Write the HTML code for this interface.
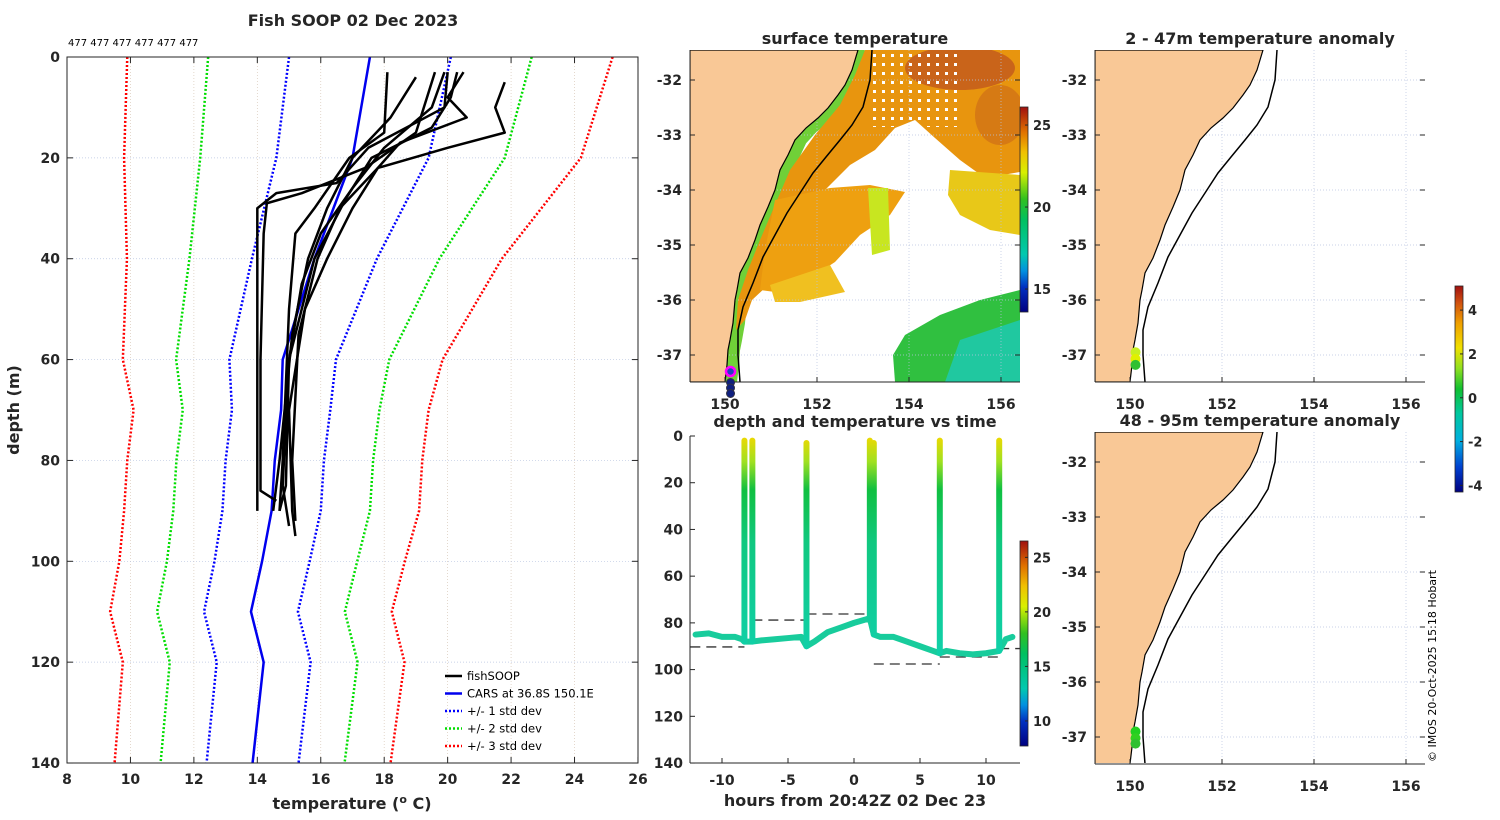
<!DOCTYPE html>
<html><head><meta charset="utf-8"><style>
html,body{margin:0;padding:0;background:#fff;}
svg{display:block;font-family:"DejaVu Sans","Liberation Sans",sans-serif;}
</style></head><body>
<svg id="chart" width="1500" height="820" viewBox="0 0 1500 820" xmlns="http://www.w3.org/2000/svg">
<defs>
<linearGradient id="jet" x1="0" y1="1" x2="0" y2="0">
<stop offset="0" stop-color="#000080"/><stop offset="0.12" stop-color="#0030c0"/><stop offset="0.2" stop-color="#0090e0"/><stop offset="0.28" stop-color="#00c8b0"/><stop offset="0.45" stop-color="#00c060"/><stop offset="0.55" stop-color="#30c020"/><stop offset="0.68" stop-color="#d8f000"/><stop offset="0.78" stop-color="#f0c000"/><stop offset="0.88" stop-color="#e07000"/><stop offset="1" stop-color="#a01010"/>
</linearGradient>
<linearGradient id="anom" x1="0" y1="1" x2="0" y2="0">
<stop offset="0" stop-color="#000080"/><stop offset="0.12" stop-color="#0040d0"/><stop offset="0.25" stop-color="#00b0e0"/><stop offset="0.38" stop-color="#00c8a0"/><stop offset="0.5" stop-color="#10c030"/><stop offset="0.6" stop-color="#90e020"/><stop offset="0.7" stop-color="#f0e000"/><stop offset="0.82" stop-color="#f0a000"/><stop offset="0.92" stop-color="#d05010"/><stop offset="1" stop-color="#a01010"/>
</linearGradient>
<linearGradient id="castgrad" gradientUnits="userSpaceOnUse" x1="0" y1="436" x2="0" y2="650">
<stop offset="0" stop-color="#f0d800"/><stop offset="0.12" stop-color="#a0e020"/><stop offset="0.25" stop-color="#10c040"/><stop offset="0.5" stop-color="#10c880"/><stop offset="1" stop-color="#10d0a8"/>
</linearGradient>
<pattern id="holes" width="9" height="9" patternUnits="userSpaceOnUse"><rect x="0" y="0" width="3" height="3" fill="#fff"/></pattern>
<clipPath id="clipA"><rect x="690" y="50" width="330" height="332"/></clipPath>
<clipPath id="clipB"><rect x="1095" y="50" width="330" height="332"/></clipPath>
<clipPath id="clipC"><rect x="1095" y="432" width="330" height="331"/></clipPath>
</defs>
</svg>
<script>
const NS='http://www.w3.org/2000/svg';
const svg=document.getElementById('chart');
// ---------- data ----------
const climDepths=[0,20,40,60,70,80,90,100,110,120,140];
const climMean=[17.55,17.0,15.8,14.8,14.75,14.55,14.45,14.15,13.8,14.2,13.85];
const climStd=[2.55,2.4,1.97,1.68,1.55,1.55,1.55,1.5,1.48,1.48,1.45];
const prof1=[[3,20.0],[10,19.9],[18,17.5],[25,16.5],[27,14.6],[30,14.0],[60,14.0],[85,14.0],[90,14.0]];
const prof2=[[3,19.6],[15,19.0],[22,17.4],[27,15.4],[29,14.3],[35,14.2],[60,14.1],[86,14.1],[88,14.6]];
const prof3=[[3,18.1],[15,18.0],[20,16.9],[30,15.8],[35,15.2],[50,15.0],[80,14.8],[90,14.7]];
const prof4=[[5,21.8],[10,21.5],[15,21.8],[18,20.0],[22,17.8],[30,17.0],[40,16.2],[50,15.5],[70,15.0],[90,15.1],[95,15.2]];
const prof5=[[3,20.5],[8,20.0],[12,20.6],[17,18.5],[22,17.8],[30,16.6],[40,15.9],[55,15.3],[80,15.1],[92,15.2]];
const prof6=[[3,19.9],[10,19.5],[18,18.0],[26,17.0],[35,16.0],[45,15.4],[60,15.0],[85,14.8],[93,15.0]];
const prof7=[[4,19.0],[12,18.2],[20,17.0],[30,16.2],[40,15.6],[55,15.1],[80,14.7],[90,14.5]];
const prof8=[[3,20.3],[8,20.1],[14,19.5],[20,17.6],[28,16.8],[40,15.8],[60,15.0],[85,14.9],[90,14.7]];
const tempTicks=[8,10,12,14,16,18,20,22,24,26];
const depthTicks=[0,20,40,60,80,100,120,140];
const traceT=[-12,-11,-10,-9,-8.5,-8.3,-7.7,-7,-6,-5,-4,-3.6,-3,-2,-1,0,1.2,1.5,2,3,4,5,6,6.5,7,8,9,10,11,11.5,12];
const traceD=[85,84.5,86,86,87,88,88,87.5,87,86.5,86,90,88,84,82,80,78,85,86,86,88,90,92,93,92,93,93.5,93,92,87,86];
const castT=[-8.3,-7.7,-3.6,1.2,1.5,6.5,11.0];
const castTop=[2,2,3,2,3,2,2];
const castBot=[88,88,90,78,85,93,92];
const dashT0=[-12.4,-7.7,-3.6,1.5,6.5,11.0];
const dashT1=[-8.3,-3.6,1.2,6.5,11.0,12.6];
const dashD=[90.3,78.8,76.2,97.6,94.6,91];
const hourTicks=[-10,-5,0,5,10];
const lonTicks=[150,152,154,156];
const latTicks=[-32,-33,-34,-35,-36,-37];
const sstDotsLat=[-37.3,-37.5,-37.6,-37.7];
const anomTopLat=[-36.95,-37.07,-37.18];
const anomTopColor=['#c8f020','#e0f000','#30c030'];
const anomBotLat=[-36.9,-37.02,-37.12];
const anomBotColor=['#20d020','#30d020','#30c030'];

function el(tag,a,p){const e=document.createElementNS(NS,tag);for(const k in a)e.setAttribute(k,a[k]);(p||svg).appendChild(e);return e;}
function tx(x,y,s,a,p){const e=el('text',Object.assign({x:x,y:y,'font-size':14,'font-weight':'bold',fill:'#262626'},a||{}),p);e.textContent=s;return e;}

// ---------- profile panel ----------
const X=t=>67+(t-8)*31.72, Y=d=>57+d*5.043;
const gP=el('g',{});


tempTicks.forEach(t=>{const l=el('line',{x1:X(t),x2:X(t),y1:57,y2:763,stroke:'#d8c8b8','stroke-width':0.7,'stroke-dasharray':'1,2'},gP);
 const tk=tx(X(t),784,String(t),{'text-anchor':'middle'},gP);
 el('line',{x1:X(t),x2:X(t),y1:763,y2:757,stroke:'#262626'},gP);el('line',{x1:X(t),x2:X(t),y1:57,y2:63,stroke:'#262626'},gP);});
depthTicks.forEach(d=>{const l=el('line',{x1:67,x2:638,y1:Y(d),y2:Y(d),stroke:'#b8c4e0','stroke-width':0.7,'stroke-dasharray':'1,2'},gP);
 const tk=tx(60,Y(d)+5,String(d),{'text-anchor':'end'},gP);
 el('line',{x1:67,x2:73,y1:Y(d),y2:Y(d),stroke:'#262626'},gP);el('line',{x1:638,x2:632,y1:Y(d),y2:Y(d),stroke:'#262626'},gP);});
const stdCols={1:'#0000ff',2:'#00dd00',3:'#ff0000'};
[3,2,1].forEach(k=>[-1,1].forEach(s=>{
 const pts=climDepths.map((d,i)=>X(climMean[i]+s*k*climStd[i])+','+Y(d)).join(' ');
 const pl=el('polyline',{points:pts,fill:'none',stroke:stdCols[k],'stroke-width':2.5,'stroke-dasharray':'2,2'},gP);
 
 }));
const meanL=el('polyline',{points:climDepths.map((d,i)=>X(climMean[i])+','+Y(d)).join(' '),fill:'none',stroke:'#0000ee','stroke-width':2.5},gP);


[prof1,prof2,prof3,prof4,prof5,prof6,prof7,prof8].forEach(p=>{
 const pl=el('polyline',{points:p.map(q=>X(q[1])+','+Y(q[0])).join(' '),fill:'none',stroke:'#000','stroke-width':2.5,'stroke-linejoin':'round'},gP);
 
 });
el('rect',{x:67,y:57,width:571,height:706,fill:'none',stroke:'#262626','stroke-width':1},gP);
let t1=tx(353,26,'Fish SOOP 02 Dec 2023',{'text-anchor':'middle','font-size':16},gP);
t1=tx(68,46,'477 477 477 477 477 477',{'font-size':10,'font-weight':'normal',fill:'#000'},gP);
t1=el('text',{x:352,y:809,'text-anchor':'middle','font-size':16,'font-weight':'bold',fill:'#262626'},gP);t1.innerHTML='temperature (<tspan dy="-6" font-size="11">o</tspan><tspan dy="6"> C)</tspan>';
t1=tx(0,0,'depth (m)',{'text-anchor':'middle','font-size':16,transform:'translate(19,410) rotate(-90)'},gP);
const legItems=[['fishSOOP','#000',''],['CARS at 36.8S 150.1E','#0000ee',''],['+/- 1 std dev','#0000ff','2,2'],['+/- 2 std dev','#00dd00','2,2'],['+/- 3 std dev','#ff0000','2,2']];
const gL=el('g',{},gP);
legItems.forEach((it,i)=>{const y=676+i*17.5;el('line',{x1:445,x2:462,y1:y,y2:y,stroke:it[1],'stroke-width':2.5,'stroke-dasharray':it[2]||'none'},gL);
 const t=tx(467,y+4,it[0],{'font-size':11.5,'font-weight':'normal',fill:'#000'},gL);});

// ---------- maps ----------
const coast=[[858,50],[852,70],[845,85],[838,95],[828,108],[818,118],[806,128],[795,140],[788,155],[780,170],[775,190],[768,207],[760,225],[755,240],[748,258],[740,273],[737,290],[735,300],[733,323],[730,340],[728,350],[727,365],[725,382]];
const shelf=[[872,50],[870,80],[863,107],[852,125],[840,140],[826,157],[813,173],[800,193],[787,213],[775,235],[763,257],[753,283],[743,307],[738,330],[738,355],[740,382]];
const LX=(lon,x0)=>x0+35+(lon-150)*46, LY=(lat,y0)=>y0+30+(-32-lat)*55;
function mapFrame(x0,y0,name,title,clip,sst){
 const g=el('g',{});
 const inner=el('g',{'clip-path':'url(#'+clip+')'},g);
 const dx=x0-690,dy=y0-50;
 const inn=el('g',{transform:'translate('+dx+','+dy+')'},inner);
 if(sst){
  const P=(pts,f)=>el('polygon',{points:pts.map(p=>p.join(',')).join(' '),fill:f},inn);
  el('polyline',{points:coast.map(p=>(p[0]+6)+','+p[1]).join(' '),fill:'none',stroke:'#70d038','stroke-width':12},inn);
  P([[865,50],[1020,50],[1020,172],[985,178],[960,160],[935,138],[915,120],[895,128],[875,150],[850,165],[830,185],[810,205],[795,225],[780,255],[768,285],[752,300],[745,320],[736,330],[738,300],[748,270],[760,240],[775,205],[790,170],[815,135],[840,105],[855,75]],'#e8950e');
  el('ellipse',{cx:960,cy:68,rx:55,ry:22,fill:'#c9641a'},inn);
  el('ellipse',{cx:1000,cy:115,rx:25,ry:30,fill:'#d67a14'},inn);
  el('rect',{x:872,y:52,width:90,height:75,fill:'url(#holes)'},inn);
  P([[775,200],[830,188],[870,185],[905,192],[890,215],[860,235],[835,262],[800,285],[775,292],[760,290],[765,250]],'#eea010');
  P([[770,285],[830,265],[845,292],[800,302],[775,302]],'#f0c020');
  P([[868,188],[888,188],[890,250],[872,255]],'#c8e620');
  P([[950,170],[1020,175],[1020,235],[990,230],[960,215],[948,195]],'#e8c818');
  P([[905,335],[940,315],[980,300],[1020,290],[1020,382],[895,382],[893,355]],'#30c040');
  P([[960,340],[1020,320],[1020,382],[945,382]],'#20c8a0');
 }
 latTicks.forEach(l=>{el('line',{x1:690,x2:1020,y1:LY(l,50),y2:LY(l,50),stroke:'#b8c4e0','stroke-width':0.7,'stroke-dasharray':'1,2'},inn);});
 lonTicks.forEach(l=>{el('line',{x1:LX(l,690),x2:LX(l,690),y1:50,y2:382,stroke:'#b8c4e0','stroke-width':0.7,'stroke-dasharray':'1,2'},inn);});
 const land=el('polygon',{points:coast.concat([[690,382],[690,50]]).map(p=>p.join(',')).join(' '),fill:'#f9c896',stroke:'#000','stroke-width':1.2},inn);
 
 const sh=el('polyline',{points:shelf.map(p=>p.join(',')).join(' '),fill:'none',stroke:'#000','stroke-width':1.5},inn);
 
 el('line',{x1:x0,x2:x0+330,y1:y0+332,y2:y0+332,stroke:'#262626'},g);
 el('line',{x1:x0,x2:x0,y1:y0,y2:y0+332,stroke:'#262626'},g);
 latTicks.forEach(l=>{const y=LY(l,y0);el('line',{x1:x0,x2:x0+5,y1:y,y2:y,stroke:'#262626'},g);el('line',{x1:x0+330,x2:x0+325,y1:y,y2:y,stroke:'#262626'},g);
  const t=tx(x0-8,y+5,String(l),{'text-anchor':'end'},g);});
 lonTicks.forEach(l=>{const x=LX(l,x0);el('line',{x1:x,x2:x,y1:y0+332,y2:y0+327,stroke:'#262626'},g);
  const t=tx(x,y0+359,String(l),{'text-anchor':'middle'},g);});
 const tt=tx(x0+165,y0-6,title,{'text-anchor':'middle','font-size':16},g);
 return g;}
const gA=mapFrame(690,50,'surface-temperature-map','surface temperature','clipA',true);
sstDotsLat.forEach((lat,i)=>{const c=el('circle',{cx:LX(150.12,690),cy:LY(lat,50),r:i==0?4.5:4,fill:i==0?'#2040c0':'#102080',stroke:i==0?'#ff00ff':'#334',"stroke-width":i==0?2.5:1},gA);
 });
const gB=mapFrame(1095,50,'anomaly-map-2-47m','2 - 47m temperature anomaly','clipB',false);
anomTopLat.forEach((lat,i)=>{const c=el('circle',{cx:LX(150.12,1095),cy:LY(lat,50),r:5,fill:anomTopColor[i]},gB);});
const gC=mapFrame(1095,432,'anomaly-map-48-95m','48 - 95m temperature anomaly','clipC',false);
anomBotLat.forEach((lat,i)=>{const c=el('circle',{cx:LX(150.12,1095),cy:LY(lat,432),r:5,fill:anomBotColor[i]},gC);});

// ---------- colorbars ----------
function cbar(x,y,h,grad,labels,vals,vmin,vmax,name){const g=el('g',{});
 el('rect',{x:x,y:y,width:8,height:h,fill:'url(#'+grad+')',stroke:'#262626','stroke-width':0.8},g);
 vals.forEach((v,i)=>{const yy=y+h-(v-vmin)/(vmax-vmin)*h;el('line',{x1:x+8,x2:x+5,y1:yy,y2:yy,stroke:'#262626'},g);
  const t=tx(x+13,yy+5,labels[i],{'font-size':13},g);});}
cbar(1020,107,205,'jet',['15','20','25'],[15,20,25],13.6,26.1,'sst-colorbar');
cbar(1020,541,205,'jet',['10','15','20','25'],[10,15,20,25],7.7,26.5,'time-colorbar');
cbar(1455,286,206,'anom',['-4','-2','0','2','4'],[-4,-2,0,2,4],-4.3,5.1,'anomaly-colorbar');

// ---------- time panel ----------
const TX=t=>854+t*13.2, TY=d=>436+d*2.336;
const gT=el('g',{});
dashT0.forEach((t,i)=>{const l=el('line',{x1:TX(t),x2:TX(dashT1[i]),y1:TY(dashD[i]),y2:TY(dashD[i]),stroke:'#333','stroke-width':1.3,'stroke-dasharray':'10,6'},gT);});
const tr=el('polyline',{points:traceT.map((t,i)=>TX(t)+','+TY(traceD[i])).join(' '),fill:'none',stroke:'#18cc9c','stroke-width':6,'stroke-linejoin':'round','stroke-linecap':'round'},gT);

castT.forEach((t,i)=>{const l=el('line',{x1:TX(t),x2:TX(t),y1:TY(castTop[i]),y2:TY(castBot[i]),stroke:'url(#castgrad)','stroke-width':6,'stroke-linecap':'round'},gT);});
el('line',{x1:690,x2:1020,y1:763,y2:763,stroke:'#262626'},gT);el('line',{x1:690,x2:690,y1:436,y2:763,stroke:'#262626'},gT);
depthTicks.forEach(d=>{el('line',{x1:690,x2:695,y1:TY(d),y2:TY(d),stroke:'#262626'},gT);const t=tx(683,TY(d)+5,String(d),{'text-anchor':'end'},gT);});
hourTicks.forEach(h=>{el('line',{x1:TX(h),x2:TX(h),y1:763,y2:758,stroke:'#262626'},gT);const t=tx(TX(h),785,String(h),{'text-anchor':'middle'},gT);});
t1=tx(855,427,'depth and temperature vs time',{'text-anchor':'middle','font-size':16},gT);
t1=tx(855,806,'hours from 20:42Z 02 Dec 23',{'text-anchor':'middle','font-size':16},gT);
t1=tx(0,0,'© IMOS 20-Oct-2025 15:18 Hobart',{'font-size':11,'font-weight':'normal',fill:'#000',transform:'translate(1436,762) rotate(-90)'});

</script>
</body></html>
